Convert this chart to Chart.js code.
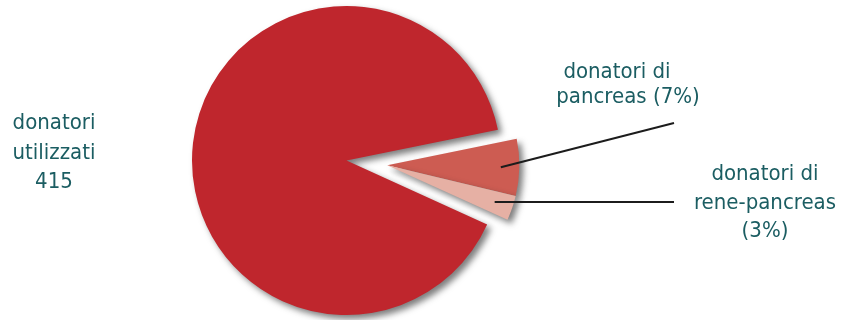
<!DOCTYPE html>
<html>
<head>
<meta charset="utf-8">
<script src="https://cdn.jsdelivr.net/npm/chart.js@4"></script>
<style>
  html, body { margin: 0; padding: 0; background: #fff; }
  canvas { display: block; }
</style>
</head>
<body>
<canvas id="donorChart" width="843" height="320"></canvas>
<script>
var categories = ['donatori utilizzati', 'donatori di pancreas', 'donatori di rene-pancreas'];
var donors = [415, 32, 14];
var labelLines = [
  ['donatori', 'utilizzati', '415'],
  ['donatori di', 'pancreas (7%)'],
  ['donatori di', 'rene-pancreas', '(3%)']
];
var sliceColors = ['#bf262d', '#cd5c52', '#e6b0a4'];

// pulled-out slices: distance from centre and radius factor
var explode = [0, 41, 41];
var radiusScale = [1, 0.855, 0.855];

var textColor = '#1b5d62';
var labelFont = '22px "DejaVu Sans Condensed", "DejaVu Sans", sans-serif';

// where each label block sits (centre x per line), and where its leader ends
var labelBoxes = [
  { x: [54, 54, 54], y: 129, lineHeight: 29.5, leader: null },
  { x: [617, 628], y: 77.5, lineHeight: 25.8, leader: { x: 674, y: 123 } },
  { x: [765, 765, 765], y: 180, lineHeight: 28.7, leader: { x: 674, y: null } }
];

var explodePlugin = {
  id: 'explode',
  beforeDatasetsDraw: function (chart) {
    var meta = chart.getDatasetMeta(0);
    var arcs = meta.data;
    var area = chart.chartArea;
    var cx = (area.left + area.right) / 2;
    var cy = (area.top + area.bottom) / 2;
    var r = meta.controller.outerRadius;
    // pulled-out slices move together, along the middle of their group
    var start = null, end = null;
    arcs.forEach(function (arc, i) {
      if (explode[i] > 0) {
        if (start === null) start = arc.startAngle;
        end = arc.endAngle;
      }
    });
    var dir = start === null ? 0 : (start + end) / 2;
    arcs.forEach(function (arc, i) {
      arc.x = cx + Math.cos(dir) * explode[i];
      arc.y = cy + Math.sin(dir) * explode[i];
      arc.outerRadius = r * radiusScale[i];
    });

    var ctx = chart.ctx;
    ctx.save();
    ctx.shadowColor = 'rgba(40, 40, 40, 0.6)';
    ctx.shadowBlur = 6;
    ctx.shadowOffsetX = 4;
    ctx.shadowOffsetY = 4;
  },
  afterDatasetsDraw: function (chart) {
    chart.ctx.restore();
  }
};

var labelPlugin = {
  id: 'sliceLabels',
  afterDraw: function (chart) {
    var ctx = chart.ctx;
    var arcs = chart.getDatasetMeta(0).data;
    ctx.save();

    // leader lines from inside the small slices
    ctx.strokeStyle = '#1c1c1c';
    ctx.lineWidth = 2;
    labelBoxes.forEach(function (box, i) {
      if (!box.leader) return;
      var arc = arcs[i];
      var mid = (arc.startAngle + arc.endAngle) / 2;
      var sx = arc.x + Math.cos(mid) * arc.outerRadius * 0.86;
      var sy = arc.y + Math.sin(mid) * arc.outerRadius * 0.86;
      var ey = box.leader.y === null ? sy : box.leader.y;
      ctx.beginPath();
      ctx.moveTo(sx, sy);
      ctx.lineTo(box.leader.x, ey);
      ctx.stroke();
    });

    ctx.fillStyle = textColor;
    ctx.font = labelFont;
    ctx.textAlign = 'center';
    ctx.textBaseline = 'alphabetic';
    labelBoxes.forEach(function (box, i) {
      labelLines[i].forEach(function (line, j) {
        ctx.fillText(line, box.x[j], box.y + j * box.lineHeight);
      });
    });
    ctx.restore();
  }
};

new Chart(document.getElementById('donorChart').getContext('2d'), {
  type: 'pie',
  data: {
    labels: categories,
    datasets: [{
      data: donors,
      backgroundColor: sliceColors,
      borderWidth: 0
    }]
  },
  options: {
    responsive: false,
    animation: false,
    events: [],
    rotation: 114.45,
    layout: {
      padding: { top: 6, bottom: 5, left: 192, right: 342 }
    },
    plugins: {
      legend: { display: false },
      tooltip: { enabled: false }
    }
  },
  plugins: [explodePlugin, labelPlugin]
});
</script>
</body>
</html>
